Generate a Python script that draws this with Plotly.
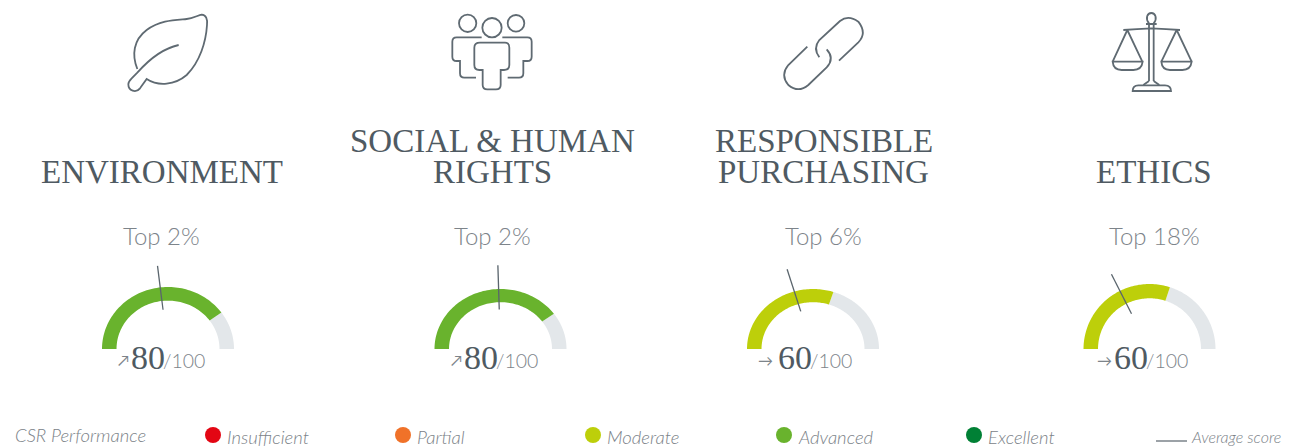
import numpy as np
import plotly.graph_objects as go

title_lines = [["ENVIRONMENT"], ["SOCIAL &amp; HUMAN", "RIGHTS"], ["RESPONSIBLE", "PURCHASING"], ["ETHICS"]]
top_labels = ["Top 2%", "Top 2%", "Top 6%", "Top 18%"]
scores = [80, 80, 60, 60]
averages = [46, 49, 40, 35]
trends = ["↗", "↗", "→", "→"]
legend_labels = ["Insufficient", "Partial", "Moderate", "Advanced", "Excellent"]
legend_colors = ["#e30613", "#f07229", "#bdcf0a", "#69b32d", "#008035"]

# layout geometry (pixels)
W, H = 1297, 448
cx = [168, 500.5, 813, 1149.5]
title_x = [162, 492, 823.5, 1154]
top_x = [161, 492, 823, 1154]
arrow_x = [123, 456, 765, 1104]
score_x = [131, 464, 778, 1114]
denom_x = [163, 496, 810, 1146]
ry = [62, 60, 60, 65]
rx = 66
base_y = 349
thick = 0.22
legend_dot_x = [213, 403, 593, 784, 974]
DARK, GREY, LEG = "#4f5a62", "#7d848a", "#7b8288"
TRACK = "#e3e7ea"


def band_color(v):
    return "#69b32d" if v >= 70 else "#bdcf0a"


def arc(c, r_y, v0, v1):
    a = np.pi * (1 - np.linspace(v0, v1, 80) / 100)
    xo, yo = c + rx * np.cos(a), base_y - r_y * np.sin(a)
    xi, yi = c + rx * (1 - thick) * np.cos(a), base_y - r_y * (1 - thick) * np.sin(a)
    return np.r_[xo, xi[::-1], xo[0]], np.r_[yo, yi[::-1], yo[0]]


fig = go.Figure()
ann = []


def text(x, y, s, size, color, family="Lato", anchor="center", weight=None, style=None):
    f = dict(size=size, color=color, family=family)
    if weight:
        f["weight"] = weight
    if style:
        f["style"] = style
    ann.append(dict(x=x, y=y, xref="x", yref="y", text=s, showarrow=False, font=f,
                    xanchor=anchor, yanchor="middle", align="center", borderpad=0, borderwidth=0))


for i, lines in enumerate(title_lines):
    x, y = arc(cx[i], ry[i], scores[i], 100)
    fig.add_trace(go.Scatter(x=x, y=y, fill="toself", fillcolor=TRACK, mode="none", hoverinfo="skip"))
    x, y = arc(cx[i], ry[i], 0, scores[i])
    fig.add_trace(go.Scatter(x=x, y=y, fill="toself", fillcolor=band_color(scores[i]), mode="none", hoverinfo="skip"))
    a = np.pi * (1 - averages[i] / 100)
    fig.add_trace(go.Scatter(
        x=[cx[i] + 0.6 * rx * np.cos(a), cx[i] + 1.27 * rx * np.cos(a)],
        y=[base_y - 0.6 * rx * np.sin(a), base_y - 1.27 * rx * np.sin(a)],
        mode="lines", line=dict(color="#5a656d", width=1.3), hoverinfo="skip"))
    for k, line in enumerate(reversed(lines)):
        text(title_x[i], 172 - 31 * k, line, 33, DARK, family="Liberation Serif")
    text(top_x[i], 235, top_labels[i], 24, GREY, weight=300)
    text(arrow_x[i], 360, trends[i], 15, GREY)
    text(score_x[i], 357, str(scores[i]), 34, DARK, family="Liberation Serif", anchor="left")
    text(denom_x[i], 360, "/100", 19.5, GREY, anchor="left", weight=300)

# legend
fig.add_trace(go.Scatter(x=legend_dot_x, y=[435] * 5, mode="markers", hoverinfo="skip",
                         marker=dict(size=16, color=legend_colors)))
text(15, 435, "CSR Performance", 18.5, LEG, anchor="left", weight=300, style="italic")
for x0, lab in zip(legend_dot_x, legend_labels):
    text(x0 + 14, 437, lab, 18.5, LEG, anchor="left", weight=300, style="italic")
fig.add_trace(go.Scatter(x=[1156, 1187], y=[441, 441], mode="lines", hoverinfo="skip",
                         line=dict(color="#5a656d", width=1.2)))
text(1191, 436, "Average score", 16, LEG, anchor="left", weight=300, style="italic")


# icons, drawn from zoom-crop coordinates (3x)
def P(ox, oy, cmds):
    out = []
    for tok in cmds.split():
        if "," in tok:
            a, b = tok.split(",")
            out.append(f"{ox + float(a) / 3:.2f},{oy + float(b) / 3:.2f}")
        else:
            out.append(tok)
    return " ".join(out)


def circ(x, y, r):
    return f"M {x - r},{y} C {x - r},{y - .55 * r} {x - .55 * r},{y - r} {x},{y - r} C {x + .55 * r},{y - r} {x + r},{y - .55 * r} {x + r},{y} C {x + r},{y + .55 * r} {x + .55 * r},{y + r} {x},{y + r} C {x - .55 * r},{y + r} {x - r},{y + .55 * r} {x - r},{y} Z"


icons = [
    (100, 5, [
        "M 112,192 C 95,150 100,105 140,75 C 180,45 225,45 260,42 C 280,40 295,30 305,29 C 318,30 323,42 321,60 C 318,110 300,170 260,210 C 225,240 175,245 140,222 L 120,250 C 108,265 85,258 85,238 C 85,230 90,225 95,220 L 112,203 C 150,160 190,130 236,120",
    ]),
    (430, 5, [
        circ(113, 55, 26), circ(186, 68, 29), circ(258, 55, 25),
        "M 150,113 L 225,113 Q 238,113 238,128 L 238,180 Q 238,195 222,195 L 212,195 L 212,240 Q 212,253 198,253 L 172,253 Q 158,253 158,240 L 158,195 L 148,195 Q 133,195 133,180 L 133,128 Q 133,113 150,113 Z",
        "M 155,97 L 80,97 Q 67,97 67,110 L 67,155 Q 67,168 80,168 L 90,168 L 90,205 Q 90,218 103,218 L 138,218",
        "M 217,97 L 292,97 Q 305,97 305,110 L 305,155 Q 305,168 292,168 L 280,168 L 280,205 Q 280,218 267,218 L 233,218",
    ]),
    (760, 5, [
        "M 178,157 Q 158,130 178,105 L 240,48 Q 265,28 295,50 Q 322,85 295,112 L 237,167",
        "M 142,125 L 85,180 Q 60,210 85,240 Q 115,265 145,240 L 200,187 Q 225,160 200,133",
    ]),
    (1090, 5, [
        "M 177,55 L 177,228 M 191,55 L 191,228 M 168,57 L 200,57",
        "M 177,55 C 165,40 172,24 184,24 C 196,24 203,40 191,55",
        "M 100,75 Q 140,72 184,70 Q 230,72 270,75",
        "M 112,75 L 68,170 M 112,75 L 157,170 M 68,170 L 158,170 Q 155,195 130,195 L 95,195 Q 70,195 68,170 Z",
        "M 260,75 L 214,170 M 260,75 L 305,170 M 214,170 L 305,170 Q 302,195 277,195 L 240,195 Q 216,195 214,170 Z",
        "M 160,240 L 177,228 M 191,228 L 208,240",
        "M 128,258 Q 128,241 145,241 L 225,241 Q 243,241 243,258 Z",
    ]),
]
shapes = []
for ox, oy, paths in icons:
    for p in paths:
        shapes.append(dict(type="path", path=P(ox, oy, p), xref="x", yref="y",
                           line=dict(color="#5f6a72", width=1.8), fillcolor="rgba(0,0,0,0)"))

fig.update_layout(
    width=W, height=H, margin=dict(l=0, r=0, t=0, b=0), showlegend=False,
    paper_bgcolor="white", plot_bgcolor="white",
    xaxis=dict(range=[0, W], visible=False, fixedrange=True),
    yaxis=dict(range=[H, 0], visible=False, fixedrange=True),
    annotations=ann, shapes=shapes,
)
fig.write_html("out.html", config={"displayModeBar": False},
               post_script="document.body.style.margin='0';document.body.style.overflow='hidden';")
